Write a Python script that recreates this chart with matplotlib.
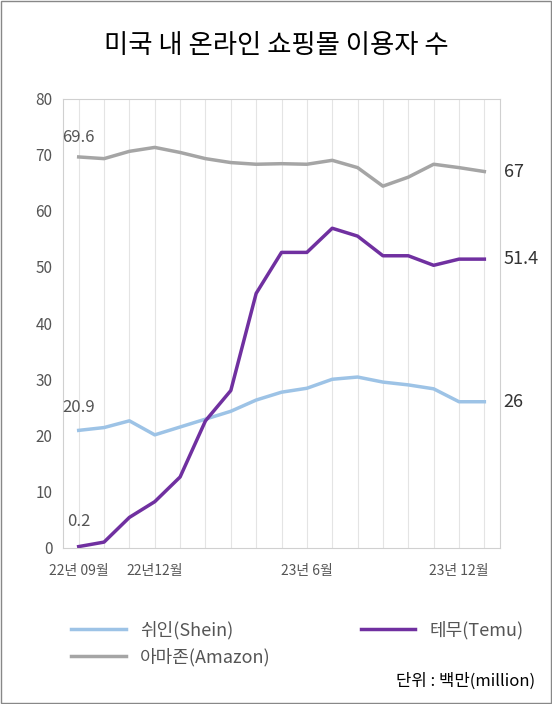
import matplotlib.pyplot as plt
from matplotlib.patches import Rectangle

plt.rcParams['font.family'] = ['Noto Sans CJK KR', 'DejaVu Sans']

# 2022-09 ~ 2024-01, 월별
months = list(range(17))
tick_pos = [0, 3, 9, 15]
tick_labels = ['22년 09월', '22년12월', '23년 6월', '23년 12월']

shein = [20.9, 21.4, 22.6, 20.1, 21.5, 22.9, 24.3, 26.3, 27.7, 28.4, 30.0, 30.4, 29.5, 29.0, 28.3, 26.0, 26.0]
temu = [0.2, 1.0, 5.4, 8.2, 12.6, 22.6, 28.0, 45.3, 52.6, 52.6, 56.9, 55.5, 52.0, 52.0, 50.3, 51.4, 51.4]
amazon = [69.6, 69.3, 70.6, 71.3, 70.4, 69.3, 68.6, 68.3, 68.4, 68.3, 69.0, 67.7, 64.4, 66.0, 68.3, 67.7, 67.0]

fig = plt.figure(figsize=(5.52, 7.04), dpi=100)
ax = fig.add_axes([0.115, 0.222, 0.79, 0.638])

l1, = ax.plot(months, shein, color='#9dc3e6', lw=2.5, label='쉬인(Shein)')
l2, = ax.plot(months, temu, color='#7030a0', lw=2.5, label='테무(Temu)')
l3, = ax.plot(months, amazon, color='#a5a5a5', lw=2.5, label='아마존(Amazon)')

ax.set_xlim(-0.6, 16.6)
ax.set_ylim(0, 80)
ax.set_yticks(range(0, 81, 10))
ax.set_xticks(tick_pos)
ax.set_xticklabels(tick_labels, fontsize=10, color='#555555')
ax.tick_params(axis='y', labelsize=11, colors='#555555', length=0, pad=8)
ax.tick_params(axis='x', length=0, pad=12)
for m in months:
    ax.axvline(m, color='#e4e4e4', lw=0.8, zorder=0)
for s in ax.spines.values():
    s.set_color('#d0d0d0')

ax.annotate('69.6', (0, amazon[0]), xytext=(0, 8), textcoords='offset points',
            ha='center', va='bottom', fontsize=12, color='#555555')
ax.annotate('20.9', (0, shein[0]), xytext=(0, 10), textcoords='offset points',
            ha='center', va='bottom', fontsize=12, color='#555555')
ax.annotate('0.2', (0, temu[0]), xytext=(0, 12), textcoords='offset points',
            ha='center', va='bottom', fontsize=12, color='#555555')
for vals, txt in [(amazon, '67'), (temu, '51.4'), (shein, '26')]:
    ax.annotate(txt, (16, vals[-1]), xytext=(14, 0), textcoords='offset points',
                ha='left', va='center', fontsize=13, color='#333333')

fig.text(0.5, 0.935, '미국 내 온라인 쇼핑몰 이용자 수', ha='center', va='center', fontsize=19)
fig.legend([l1, l3, l2], [l1.get_label(), l3.get_label(), l2.get_label()],
           loc='lower left', bbox_to_anchor=(0.1, 0.03), ncol=2, frameon=False,
           fontsize=13, handlelength=3, columnspacing=5, labelcolor='#555555')
fig.text(0.97, 0.02, '단위 : 백만(million)', ha='right', va='bottom', fontsize=12)
fig.patches.append(Rectangle((0.002, 0.002), 0.996, 0.996, transform=fig.transFigure,
                             fill=False, edgecolor='#888888', lw=1))

fig.savefig('out.png', dpi=100)
